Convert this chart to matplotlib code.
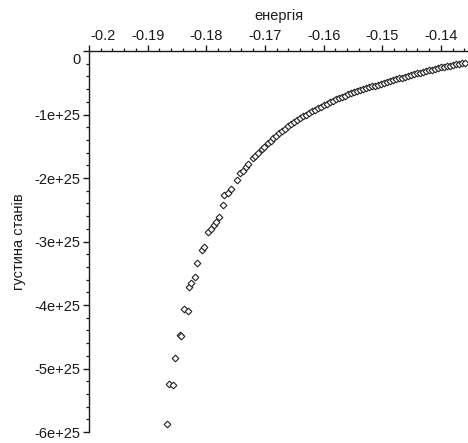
import matplotlib
matplotlib.use("Agg")
import matplotlib.pyplot as plt
import matplotlib.transforms as mtransforms
from matplotlib.ticker import MultipleLocator, FixedLocator, FuncFormatter
import numpy as np

# energy values
energy = [
    -0.18673, -0.18639, -0.18571, -0.18537, -0.18452, -0.18435, -0.18384, -0.18316,
    -0.18299, -0.18265, -0.18197, -0.18163, -0.18078, -0.18044, -0.17976, -0.17925,
    -0.17874, -0.17840, -0.17789, -0.17721, -0.17704, -0.17636, -0.17585, -0.17483,
    -0.17432, -0.17381, -0.17330, -0.17296, -0.17211, -0.17177, -0.17126, -0.17058,
    -0.17024, -0.16956,
    -0.16905, -0.16854, -0.16803, -0.16752, -0.16701, -0.16650, -0.16599, -0.16548,
    -0.16497, -0.16446, -0.16395, -0.16344, -0.16293, -0.16241, -0.16190, -0.16139,
    -0.16088, -0.16037, -0.15986, -0.15935, -0.15884, -0.15833, -0.15782, -0.15731,
    -0.15680, -0.15629, -0.15578, -0.15527, -0.15476, -0.15425, -0.15374, -0.15323,
    -0.15272, -0.15221, -0.15170, -0.15119, -0.15068, -0.15017, -0.14966, -0.14915,
    -0.14864, -0.14813, -0.14762, -0.14711, -0.14660, -0.14609, -0.14558, -0.14507,
    -0.14456, -0.14405, -0.14354, -0.14303, -0.14252, -0.14201, -0.14150, -0.14099,
    -0.14048, -0.13997, -0.13946, -0.13895, -0.13844, -0.13793, -0.13741, -0.13690,
    -0.13639, -0.13588,
]
# density of states, in units of 1e25
density_e25 = [
    -5.867, -5.237, -5.252, -4.842, -4.479, -4.495, -4.069, -4.101,
    -3.722, -3.659, -3.565, -3.344, -3.139, -3.091, -2.855, -2.808,
    -2.744, -2.697, -2.618, -2.429, -2.271, -2.240, -2.177, -2.035,
    -1.924, -1.893, -1.830, -1.782, -1.688, -1.656, -1.609, -1.546,
    -1.514, -1.451,
    -1.412, -1.372, -1.333, -1.293, -1.257, -1.222, -1.183, -1.151,
    -1.120, -1.088, -1.057, -1.028, -1.000, -0.972, -0.946, -0.923,
    -0.899, -0.875, -0.852, -0.828, -0.804, -0.782, -0.762, -0.741,
    -0.721, -0.702, -0.683, -0.666, -0.648, -0.631, -0.615, -0.601,
    -0.587, -0.573, -0.558, -0.544, -0.530, -0.516, -0.502, -0.487,
    -0.473, -0.459, -0.445, -0.431, -0.418, -0.407, -0.394, -0.382,
    -0.368, -0.353, -0.339, -0.328, -0.315, -0.304, -0.292, -0.281,
    -0.268, -0.257, -0.248, -0.238, -0.229, -0.219, -0.210, -0.200,
    -0.192, -0.185,
]
x_ticks = [-0.2, -0.19, -0.18, -0.17, -0.16, -0.15, -0.14]
x_tick_labels = ["-0.2", "-0.19", "-0.18", "-0.17", "-0.16", "-0.15", "-0.14"]
y_ticks = [0, -1e25, -2e25, -3e25, -4e25, -5e25, -6e25]
y_tick_labels = ["0", "-1e+25", "-2e+25", "-3e+25", "-4e+25", "-5e+25", "-6e+25"]
x_label = "енергія"
y_label = "густина станів"

plt.rcParams['font.family'] = ['Liberation Sans', 'DejaVu Sans']
fs = 10.5
ink = '#1a1a1a'

fig = plt.figure(figsize=(4.68, 4.43), dpi=100)
ax = fig.add_axes([89/468, 1 - 432/443, 1 - 89/468, (432 - 51)/443])

dens = np.array(density_e25) * 1e25
ax.plot(energy, dens, linestyle='none', marker='D', markersize=3.4,
        markerfacecolor='white', markeredgecolor='#222222', markeredgewidth=0.8)

ax.set_xlim(-0.2, -0.2 + 380/5880)
ax.set_ylim(-6.0e25, 0)

for s in ['right', 'bottom']:
    ax.spines[s].set_visible(False)
for s in ['left', 'top']:
    ax.spines[s].set_color(ink)
    ax.spines[s].set_linewidth(1.0)

ax.xaxis.set_ticks_position('top')
ax.xaxis.set_label_position('top')
ax.xaxis.set_major_locator(FixedLocator(x_ticks))
ax.set_xticklabels(x_tick_labels)
ax.xaxis.set_minor_locator(MultipleLocator(0.002))
ax.yaxis.set_major_locator(FixedLocator(y_ticks))
ax.set_yticklabels(y_tick_labels)
ax.yaxis.set_minor_locator(MultipleLocator(2e24))

ax.tick_params(which='major', direction='out', length=4, width=1.0, colors=ink,
               labelsize=fs, labelcolor=ink)
ax.tick_params(which='minor', direction='out', length=2.5, width=0.9, colors=ink)
ax.tick_params(axis='x', which='both', top=True, bottom=False, pad=2)
ax.tick_params(axis='y', which='both', left=True, right=False, pad=2)

ax.set_xlabel(x_label, fontsize=fs, color=ink, labelpad=6)
ax.set_ylabel(y_label, fontsize=fs, color=ink, labelpad=6)

# shift the labels at the origin away from the axes, as in the reference
fig.canvas.draw()
lab = ax.get_xticklabels()[0]
lab.set_transform(lab.get_transform() + mtransforms.ScaledTranslation(14/100, 0, fig.dpi_scale_trans))
lab = ax.get_yticklabels()[0]
lab.set_transform(lab.get_transform() + mtransforms.ScaledTranslation(0, -7/100, fig.dpi_scale_trans))

fig.savefig("out.png", dpi=100)
